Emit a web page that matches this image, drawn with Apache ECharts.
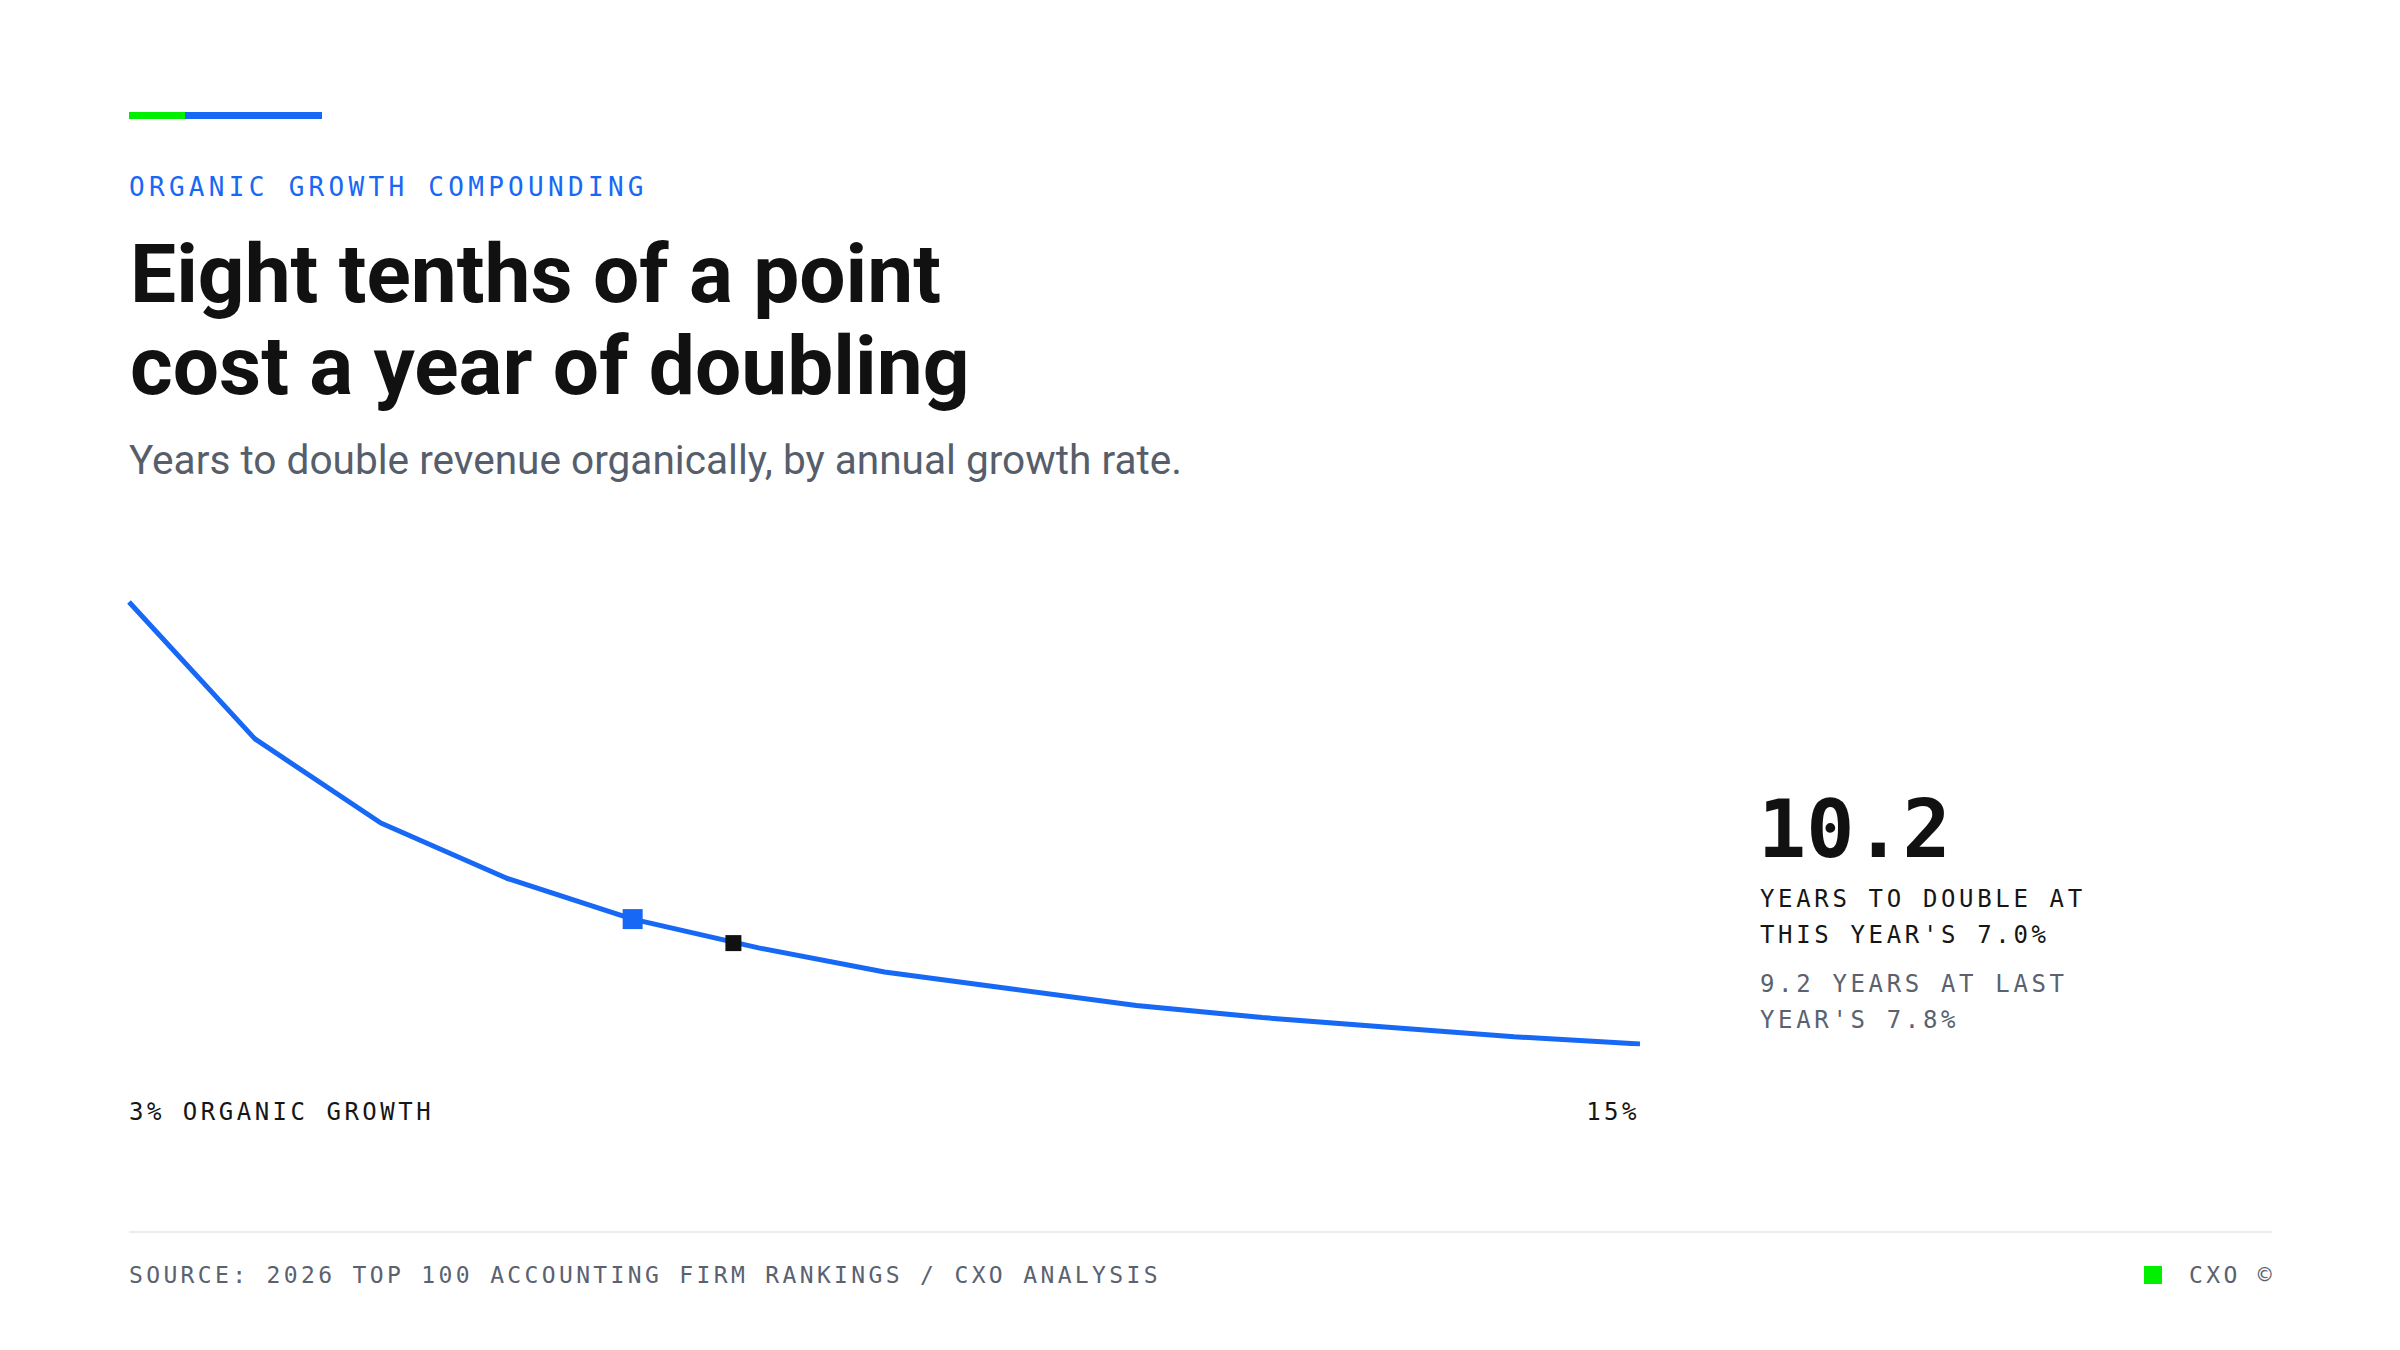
<!DOCTYPE html>
<html>
<head>
<meta charset="utf-8">
<title>Organic growth compounding</title>
<script src="https://cdn.jsdelivr.net/npm/echarts@6.0.0/dist/echarts.min.js"></script>
<style>
    html, body { margin: 0; padding: 0; background: #fff; }
    #page { position: relative; width: 2400px; height: 1350px; overflow: hidden; }
    .mono { font-family: "DejaVu Sans Mono", monospace; }
    .abs { position: absolute; white-space: nowrap; }
    #bar-green { left: 129px; top: 112px; width: 56px; height: 7px; background: #00f000; }
    #bar-blue { left: 185px; top: 112px; width: 137px; height: 7px; background: #1769f5; }
    #eyebrow { left: 129px; top: 174px; font-size: 26px; line-height: 26px; letter-spacing: 4.3px; color: #1769f5; }
    #title { left: 130px; top: 228px; font-family: Roboto, sans-serif; font-weight: 700; font-size: 82px; line-height: 92px; color: #111; }
    #subtitle { left: 129px; top: 440px; font-family: Roboto, sans-serif; font-size: 40.6px; line-height: 40px; color: #565e6b; }
    #big { left: 1758px; top: 790px; font-size: 80px; line-height: 80px; font-weight: 700; color: #111; }
    .note { left: 1760px; font-size: 24px; line-height: 36px; letter-spacing: 3.65px; }
    #note1 { top: 881px; color: #161616; }
    #note2 { top: 966px; color: #5a6270; }
    #rule { left: 129px; top: 1231px; width: 2143px; height: 2px; background: #ececec; }
    #source { left: 129px; top: 1264px; font-size: 23px; line-height: 23px; letter-spacing: 3.35px; color: #5a6270; }
    #mark { left: 2144px; top: 1266px; width: 18px; height: 18px; background: #00f000; }
    #brand { right: 125px; top: 1264px; font-size: 23px; line-height: 23px; letter-spacing: 3.35px; color: #5a6270; }
    #chart { position: absolute; left: 0; top: 560px; width: 1700px; height: 620px; }
    #chart text { letter-spacing: 3.5px; }
</style>
</head>
<body>
<div id="page">
    <div id="bar-green" class="abs"></div>
    <div id="bar-blue" class="abs"></div>
    <div id="eyebrow" class="abs mono">ORGANIC GROWTH COMPOUNDING</div>
    <div id="title" class="abs">Eight tenths of a point<br>cost a year of doubling</div>
    <div id="subtitle" class="abs">Years to double revenue organically, by annual growth rate.</div>

    <div id="chart"></div>

    <div id="big" class="abs mono">10.2</div>
    <div id="note1" class="abs mono note">YEARS TO DOUBLE AT<br>THIS YEAR'S 7.0%</div>
    <div id="note2" class="abs mono note">9.2 YEARS AT LAST<br>YEAR'S 7.8%</div>

    <div id="rule" class="abs"></div>
    <div id="source" class="abs mono">SOURCE: 2026 TOP 100 ACCOUNTING FIRM RANKINGS / CXO ANALYSIS</div>
    <div id="mark" class="abs"></div>
    <div id="brand" class="abs mono">CXO ©</div>
</div>

<script>
    // organic growth rate (%) and years needed to double revenue
    var rates = [3, 4, 5, 6, 7, 8, 9, 10, 11, 12, 13, 14, 15];
    var years = [23.4, 17.7, 14.2, 11.9, 10.2, 9.0, 8.0, 7.3, 6.6, 6.1, 5.7, 5.3, 5.0];
    var thisYear = [7.0, 10.2];   // [rate, years]
    var lastYear = [7.8, 9.2];
    var xTicks = { 3: '3% ORGANIC GROWTH', 15: '15%' };

    var blue = '#1769f5';
    var chart = echarts.init(document.getElementById('chart'), null, { renderer: 'svg' });

    var lineData = rates.map(function (r, i) {
        return [r, years[i]];
    });

    var option = {
        animation: false,
        grid: {
            left: 129,
            right: 60,
            top: 42,
            bottom: 136
        },
        xAxis: {
            type: 'value',
            min: 3,
            max: 15,
            interval: 12,
            axisLine: { show: false },
            axisTick: { show: false },
            splitLine: { show: false },
            axisLabel: {
                margin: 56,
                color: '#161616',
                fontSize: 24,
                fontFamily: 'DejaVu Sans Mono',
                alignMinLabel: 'left',
                alignMaxLabel: 'right',
                formatter: function (v) {
                    return xTicks[v] || '';
                }
            }
        },
        yAxis: {
            type: 'value',
            show: false,
            min: Math.min.apply(null, years),
            max: Math.max.apply(null, years)
        },
        series: [
            {
                name: 'Years to double',
                type: 'line',
                data: lineData,
                showSymbol: false,
                lineStyle: { color: blue, width: 5 },
                z: 2
            },
            {
                name: 'This year',
                type: 'scatter',
                data: [thisYear],
                symbol: 'rect',
                symbolSize: 20,
                itemStyle: { color: blue, opacity: 1 },
                z: 3
            },
            {
                name: 'Last year',
                type: 'scatter',
                data: [lastYear],
                symbol: 'rect',
                symbolSize: 16,
                itemStyle: { color: '#111', opacity: 1 },
                z: 3
            }
        ]
    };
    chart.setOption(option);
</script>
</body>
</html>
